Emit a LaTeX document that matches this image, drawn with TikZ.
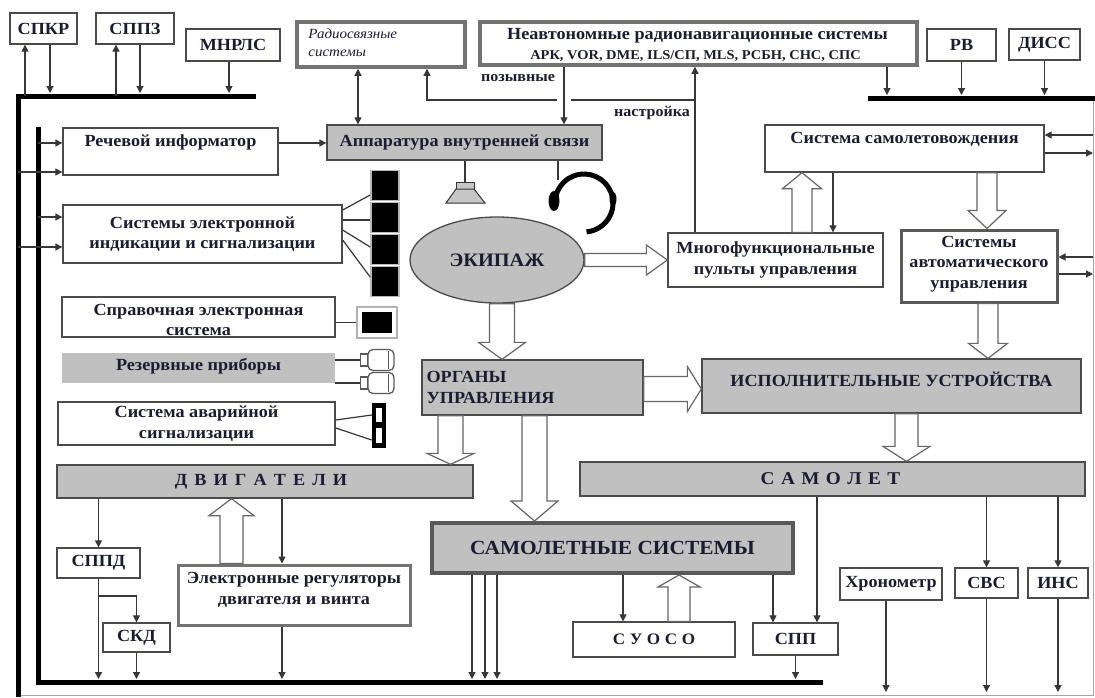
\documentclass[tikz,border=0pt]{standalone}
\usepackage{fontspec}
\setmainfont[FakeStretch=1.07]{Liberation Serif}
\usetikzlibrary{arrows.meta,calc,shapes.geometric}
\definecolor{txt}{RGB}{28,28,48}
\definecolor{lnc}{RGB}{55,55,55}
\definecolor{gfill}{RGB}{192,192,192}
\definecolor{bord}{RGB}{75,75,75}
\tikzset{
  mainfont/.style={font=\fontsize{17}{20.5}\selectfont\bfseries},
  box/.style={mainfont, draw=bord, line width=1.3pt, fill=white, inner sep=0pt, align=center, text=txt},
  gbox/.style={box, fill=gfill},
  dbox/.style={box, draw=black!55, line width=3.5pt},
  lbl/.style={mainfont, text=txt, inner sep=0pt, align=center},
  ar/.style={draw=lnc, line width=1.2pt, -{Triangle[length=7pt,width=7pt]}},
  ardbl/.style={draw=lnc, line width=1.2pt, {Triangle[length=7pt,width=7pt]}-{Triangle[length=7pt,width=7pt]}},
  wire/.style={draw=lnc, line width=1.2pt},
  bus/.style={line width=5pt, draw=black},
  frame/.style={draw=gray!70, line width=1pt},
  blk/.style={draw=black!60, line width=1.2pt, fill=white, line join=miter},
  disp/.style={fill=black, draw=gray!55, line width=1.6pt, minimum width=28pt, minimum height=30pt, inner sep=0pt},
  gauge/.style={draw=gray!70!black, line width=1.3pt, fill=white, rounded corners=5pt, minimum width=26pt, minimum height=21pt, inner sep=0pt},
  spkst/.style={draw=gray!40!black, line width=1pt, fill=gray!45},
}
\newcommand\blockarrow[5]{%
  \coordinate (ba-s) at #1;
  \coordinate (ba-t) at #2;
  \coordinate (ba-b) at ($(ba-t)!#5!(ba-s)$);
  \draw[blk] ($(ba-s)!#3!90:(ba-t)$) -- ($(ba-b)!#3!90:(ba-t)$) -- ($(ba-b)!#4!90:(ba-t)$) -- (ba-t) -- ($(ba-b)!#4!-90:(ba-t)$) -- ($(ba-b)!#3!-90:(ba-t)$) -- ($(ba-s)!#3!-90:(ba-t)$) -- cycle;}
\begin{document}
\begin{tikzpicture}[x=1pt,y=-1pt]
\fill[white] (0,0) rectangle (1095,697);
\useasboundingbox (0,0) rectangle (1095,697);

% ---------- buses ----------
\coordinate (tbL) at (15,96);
\coordinate (tbR) at (256,96);
\coordinate (tbT) at (0,93);
\coordinate (obx) at (18,0);
\coordinate (ibx) at (38,0);
\coordinate (ibB) at (0,679);
\coordinate (bB) at (0,692);
\coordinate (rx) at (1093,0);
\coordinate (rbT) at (0,95);
\draw[frame] (18,695) -- (1093,695) -- (1093,98);
\draw[bus] (tbR) -- (18,96) -- (18,697);
\draw[bus] (38,127) -- (38,682) -- (823,682);
\draw[bus] (868,98) -- (1095,98);

% ---------- nodes ----------
\node[box, minimum width=67pt, minimum height=31pt] (spkr) at (43.5,28.5) {СПКР};
\node[box, minimum width=78pt, minimum height=31pt] (sppz) at (135,28.5) {СППЗ};
\node[box, minimum width=94pt, minimum height=32pt] (mnrls) at (233,45) {МНРЛС};
\node[dbox, minimum width=168pt, minimum height=45pt] (radio) at (381,44.5) {};
\node[anchor=north west, font=\fontsize{14}{18}\selectfont\itshape, text=txt, align=left, inner sep=0pt] (radio-t) at ($(radio.north west)+(13,8)$) {Радиосвязные\\системы};
\node[dbox, minimum width=437pt, minimum height=43pt] (neavt) at (698.5,43.5) {};
\node[lbl] (neavt-t1) at ($(neavt.center)+(-1,-8)$) {Неавтономные радионавигационные системы};
\node[lbl, font=\fontsize{13.5}{16}\selectfont\bfseries] (neavt-t2) at ($(neavt.center)+(-3,13)$) {АРК, VOR, DME, ILS/СП, MLS, РСБН, СНС, СПС};
\node[box, minimum width=69pt, minimum height=32pt] (rv) at (961.5,45) {РВ};
\node[box, minimum width=71pt, minimum height=31pt] (diss) at (1044.5,44.5) {ДИСС};

\node[box, minimum width=215pt, minimum height=47pt] (rech) at (170.5,151.5) {};
\node[lbl] (rech-t) at ($(rech.north)+(0,15)$) {Речевой информатор};
\node[gbox, minimum width=275pt, minimum height=35pt] (avs) at (464.5,142.5) {Аппаратура внутренней связи};
\node[box, minimum width=279pt, minimum height=47pt] (ssv) at (904.5,148.5) {};
\node[lbl] (ssv-t) at ($(ssv.north)+(0,15)$) {Система самолетовождения};

\node[box, minimum width=279pt, minimum height=58pt] (sei) at (202.5,234) {Системы электронной\\индикации и сигнализации};
\node[ellipse, draw=bord, line width=1.3pt, fill=gfill, minimum width=174pt, minimum height=86pt, inner sep=0pt, font=\fontsize{19}{21}\selectfont\bfseries, text=txt] (ekip) at (497,260) {ЭКИПАЖ};
\node[box, minimum width=215pt, minimum height=54pt] (mfpu) at (775.5,260) {Многофункциональные\\пульты управления};
\node[box, draw=black!65, line width=3pt, minimum width=156pt, minimum height=72pt] (sau) at (979,266) {};
\node[lbl] (sau-t) at ($(sau.center)+(0,-2)$) {Системы\\автоматического\\управления};

\node[box, minimum width=273pt, minimum height=40pt] (spr) at (198.5,317) {};
\node[lbl] (spr-t) at ($(spr.center)+(0,3)$) {Справочная электронная\\система};
\node[fill=gfill, minimum width=273pt, minimum height=30pt, inner sep=0pt] (rez) at (198.5,368) {};
\node[lbl] (rez-t) at ($(rez.center)+(0,-2)$) {Резервные приборы};
\node[box, minimum width=277pt, minimum height=43pt] (avar) at (196.5,423.5) {Система аварийной\\сигнализации};

\node[gbox, minimum width=221pt, minimum height=55pt] (org) at (532.5,387.5) {};
\node[lbl, anchor=west, align=left] (org-t) at ($(org.west)+(5,0)$) {ОРГАНЫ\\УПРАВЛЕНИЯ};
\node[gbox, minimum width=379pt, minimum height=54pt] (iu) at (891.5,386) {};
\node[lbl] (iu-t) at ($(iu.north)+(0,21)$) {ИСПОЛНИТЕЛЬНЫЕ УСТРОЙСТВА};

\node[gbox, minimum width=416pt, minimum height=33pt] (dvig) at (265,481.5) {};
\node[lbl, font=\fontsize{17}{20}\selectfont\bfseries\addfontfeature{LetterSpace=15}] (dvig-t) at ($(dvig.center)+(-4,0)$) {Д В И Г А Т Е Л И};
\node[gbox, minimum width=505pt, minimum height=34pt] (samolet) at (832.5,479) {};
\node[lbl, font=\fontsize{18}{20}\selectfont\bfseries\addfontfeature{LetterSpace=9}] (samolet-t) at ($(samolet.center)+(-2,0)$) {С А М О Л Е Т};
\node[gbox, draw=black!65, line width=4pt, minimum width=361pt, minimum height=50pt, font=\fontsize{20}{24}\selectfont\bfseries] (ss) at (612.5,548) {САМОЛЕТНЫЕ СИСТЕМЫ};

\node[box, minimum width=83pt, minimum height=30pt] (sppd) at (98.5,563) {СППД};
\node[box, minimum width=67pt, minimum height=29pt] (skd) at (136.5,637.5) {СКД};
\node[dbox, line width=3pt, minimum width=232pt, minimum height=60pt] (erd) at (294,595) {};
\node[lbl] (erd-t) at ($(erd.center)+(0,-5)$) {Электронные регуляторы\\двигателя и винта};
\node[box, minimum width=162pt, minimum height=35pt, font=\fontsize{16}{18}\selectfont\bfseries\addfontfeature{LetterSpace=2}] (suoso) at (654,639.5) {С У О С О};
\node[box, minimum width=85pt, minimum height=32pt] (spp) at (795.5,639) {СПП};
\node[box, minimum width=102pt, minimum height=32pt] (hron) at (891,584) {Хронометр};
\node[box, minimum width=63pt, minimum height=30pt] (svs) at (986.5,583) {СВС};
\node[box, minimum width=60pt, minimum height=30pt] (ins) at (1058,583) {ИНС};

% ---------- devices ----------
\foreach \i in {0,...,3} \node[disp] (d\i) at (385, 185.5+32*\i) {};
\node[draw=gray!60, line width=2pt, fill=white, minimum width=40pt, minimum height=31pt, inner sep=0pt] (mon) at (377,322.5) {};
\fill[black] ($(mon.north west)+(6,6)$) rectangle ($(mon.south east)+(-6,-6)$);
\node[gauge] (g1) at (381,360) {};
\node[gauge] (g2) at (381,383) {};
\foreach \g in {g1,g2} {
  \draw[draw=gray!70!black, line width=1.3pt, fill=white] ($(\g.west)+(-7,-6)$) rectangle ($(\g.west)+(0,6)$);
  \draw[draw=gray!70!black, line width=1pt] ($(\g.east)+(-6,-9)$) -- ($(\g.east)+(-6,9)$);
}
\node[fill=black, minimum width=14pt, minimum height=45pt, inner sep=0pt] (alm) at (379,425.5) {};
\fill[white] ($(alm.north)+(-3,5)$) rectangle ($(alm.north)+(3,19)$);
\fill[white] ($(alm.north)+(-3,25)$) rectangle ($(alm.north)+(3,40)$);

\coordinate (spk) at (465,182);
\draw[spkst] ($(spk)+(-9,0)$) rectangle ($(spk)+(9,7)$);
\draw[spkst] ($(spk)+(-9,7)$) -- ($(spk)+(9,7)$) -- ($(spk)+(20,21)$) -- ($(spk)+(-19,21)$) -- cycle;
\coordinate (hc) at (584,203);
\coordinate (hs) at (558,180);
\draw[line width=5pt, black] ($(hc)+(170:29)$) arc[start angle=170, end angle=445, radius=29];
\fill[black] ($(hc)+(-30,-2)$) ellipse [x radius=5.5, y radius=10];
\fill[black] ($(hc)+(29,-4)$) ellipse [x radius=3.5, y radius=7];

% ---------- connectors ----------
\draw[ar] (tbL -| 25,0) -- (spkr.south -| 25,0);
\draw[ar] (spkr.south -| 50,0) -- (tbT -| 50,0);
\draw[ar] (tbL -| 116,0) -- (sppz.south -| 116,0);
\draw[ar] (sppz.south -| 140,0) -- (tbT -| 140,0);
\draw[ar] (mnrls.south -| 229,0) -- (tbT -| 229,0);

\draw[ardbl] (radio.south -| 358,0) -- (avs.north -| 358,0);
\draw[ar] (neavt.south -| 564,0) -- (avs.north -| 564,0);
\coordinate (nast) at (695,100);
\coordinate (gapR) at (571,100);
\coordinate (gapL) at (557,100);
\coordinate (pzc) at (427,100);
\draw[ar] (mfpu.north -| nast) -- (neavt.south -| nast);
\draw[wire] (nast) -- (gapR);
\draw[ar] (gapL) -- (pzc) -- (radio.south -| pzc);
\node[font=\fontsize{15}{17}\selectfont\bfseries, text=txt, inner sep=0pt] (lbl-pz) at (518,78) {позывные};
\node[font=\fontsize{15}{17}\selectfont\bfseries, text=txt, inner sep=0pt] (lbl-ns) at (652,113) {настройка};

\draw[ar] (rech.east |- 0,143) -- (avs.west |- 0,143);
\draw[ar] (ibx |- 0,143) -- (rech.west |- 0,143);
\draw[ar] (obx |- 0,172) -- (rech.west |- 0,172);
\draw[ar] (ibx |- 0,217) -- (sei.west |- 0,217);
\draw[ar] (obx |- 0,247) -- (sei.west |- 0,247);

\draw[wire] (avs.south -| spk) -- (spk);
\draw[wire] (avs.south -| hs) -- (hs);

\draw[wire] (sei.east |- 0,210) -- (d0.west |- 0,195);
\draw[wire] (sei.east |- 0,220) -- (d1.west |- 0,220);
\draw[wire] (sei.east |- 0,230) -- (d2.west |- 0,247);
\draw[wire] (sei.east |- 0,240) -- (d3.west |- 0,277);
\draw[wire] (spr.east |- mon.west) -- (mon.west);
\draw[wire] (rez.east |- g1) -- ($(g1.west)+(-7,0)$);
\draw[wire] (rez.east |- g2) -- ($(g2.west)+(-7,0)$);
\draw[wire] (avar.east |- 0,420) -- (alm.west |- 0,415);
\draw[wire] (avar.east |- 0,428) -- (alm.west |- 0,440);

\coordinate (e1) at ($(ekip.south)+(5,0)$);
\blockarrow{(e1)}{(e1 |- org.north)}{12.5pt}{23.5pt}{17pt}
\blockarrow{(ekip.east)}{(ekip.east -| mfpu.west)}{6.5pt}{15pt}{21pt}
\blockarrow{(mfpu.north -| 802,0)}{(ssv.south -| 802,0)}{10pt}{19.5pt}{16pt}
\draw[ar] (ssv.south -| 833,0) -- (mfpu.north -| 833,0);
\blockarrow{(ssv.south -| 987,0)}{(sau.north -| 987,0)}{10pt}{19pt}{18pt}
\blockarrow{(sau.south -| 988,0)}{(iu.north -| 988,0)}{10pt}{19.5pt}{15pt}
\blockarrow{(org.east |- 0,389)}{(iu.west |- 0,389)}{12.5pt}{22.5pt}{14pt}
\blockarrow{(org.south -| 450.5,0)}{(dvig.north -| 450.5,0)}{12.5pt}{23.5pt}{11pt}
\blockarrow{(org.south -| 534.5,0)}{(ss.north -| 534.5,0)}{12.5pt}{23.5pt}{20pt}
\blockarrow{(iu.south -| 906.5,0)}{(samolet.north -| 906.5,0)}{11.5pt}{23.5pt}{15pt}
\blockarrow{(erd.north -| 231.5,0)}{(dvig.south -| 231.5,0)}{11.5pt}{22.5pt}{17pt}
\blockarrow{(suoso.north -| 679,0)}{(ss.south -| 679,0)}{11pt}{21pt}{12pt}

\draw[ar] (rx |- 0,135) -- (ssv.east |- 0,135);
\draw[ar] (ssv.east |- 0,153) -- (rx |- 0,153);
\draw[ar] (rx |- 0,257) -- (sau.east |- 0,257);
\draw[ar] (sau.east |- 0,274) -- (rx |- 0,274);

\draw[ar] (neavt.south -| 887,0) -- (rbT -| 887,0);
\draw[ar] (rv.south) -- (rv.south |- rbT);
\draw[ar] (diss.south) -- (diss.south |- rbT);

\draw[ar] (dvig.south -| sppd.north) -- (sppd.north);
\draw[ar] (sppd.south) -- (sppd.south |- ibB);
\draw[ar] (sppd.south |- 0,596) -| (skd.north);
\draw[ar] (skd.south) -- (skd.south |- ibB);
\draw[ar] (dvig.south -| 282,0) -- (erd.north -| 282,0);
\draw[ar] (erd.south -| 282,0) -- (ibB -| 282,0);

\foreach \xx in {472,485,497} \draw[ar] (ss.south -| \xx,0) -- (ibB -| \xx,0);
\draw[ar] (ss.south -| 623,0) -- (suoso.north -| 623,0);
\draw[ar] (ss.south -| 773,0) -- (spp.north -| 773,0);
\draw[ar] (samolet.south -| 817,0) -- (spp.north -| 817,0);
\draw[ar] (spp.south) -- (spp.south |- ibB);
\draw[ar] (samolet.south -| svs.north) -- (svs.north);
\draw[ar] (samolet.south -| ins.north) -- (ins.north);
\draw[ar] (hron.south -| 886,0) -- (bB -| 886,0);
\draw[ar] (svs.south) -- (svs.south |- bB);
\draw[ar] (ins.south) -- (ins.south |- bB);
\end{tikzpicture}
\end{document}
